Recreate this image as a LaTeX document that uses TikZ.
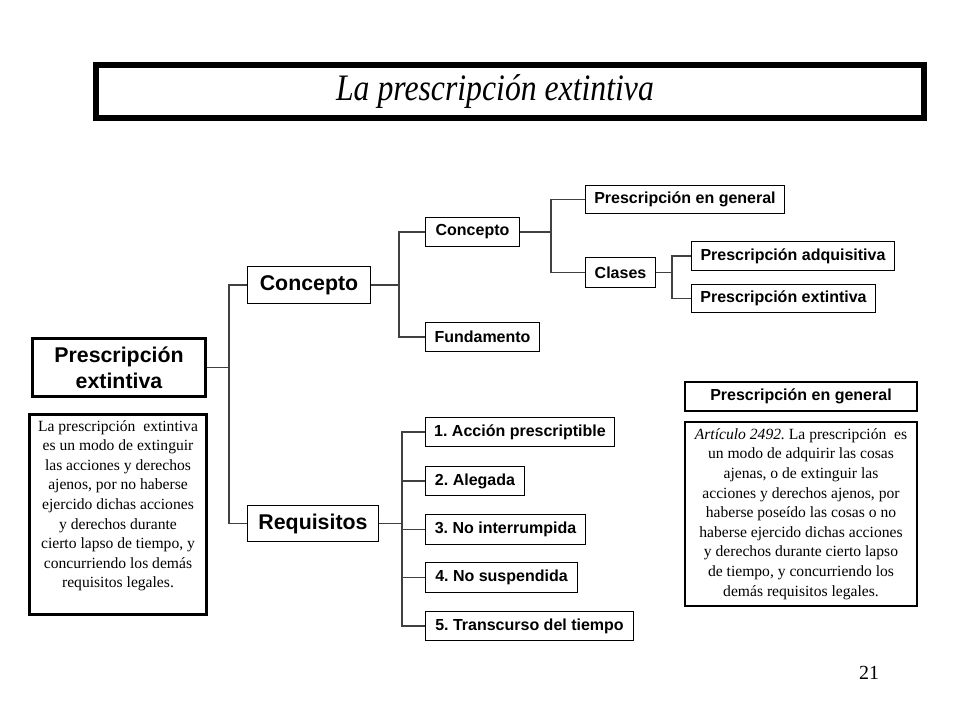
\documentclass[tikz,border=0pt]{standalone}
\usepackage{fontspec}
\usepackage{graphicx}
\setmainfont{Liberation Serif}
\setsansfont{Liberation Sans}
\newdimen\px \px=0.75pt
\frenchspacing
\begin{document}
\frenchspacing
\begin{tikzpicture}[x=0.75pt,y=-0.75pt,
  box/.style={draw=black, line width=1.5\px, inner sep=0pt, fill=white,
    font=\sffamily\bfseries\fontsize{12}{14}\selectfont},
  bigbox/.style={box, font=\sffamily\bfseries\fontsize{16}{19.5}\selectfont, align=center},
  thickbox/.style={draw=black, line width=3\px, inner sep=0pt, fill=white},
  bodytext/.style={font=\fontsize{11.7}{14.7}\selectfont, align=center, inner sep=0pt},
  conn/.style={draw=black!75, line width=1.5\px}]
\fill[white] (0,0) rectangle (960,720);
\useasboundingbox (0,0) rectangle (960,720);

% title
\node[draw=black, line width=6\px, inner sep=0pt, minimum width=828\px, minimum height=53\px] (title) at (510,91.5) {};
\node[font=\fontsize{28}{30}\selectfont\itshape, inner sep=0pt] (titletext) at (495,91.5)
  {\scalebox{0.85}[1]{La prescripción extintiva}};

% left column
\node[thickbox, minimum width=173\px, minimum height=58\px,
  font=\sffamily\bfseries\fontsize{16}{19.5}\selectfont, align=center] (main) at (119,367.5)
  {Prescripción\\extintiva};
\node[thickbox, minimum width=177\px, minimum height=200\px] (defbox) at (118,514.5) {};
\node[bodytext, anchor=north] (deftext) at (118,420)
  {La prescripción\ \ extintiva\\
   es un modo de extinguir\\
   las acciones y derechos\\
   ajenos, por no haberse\\
   ejercido dichas acciones\\
   y derechos durante\\
   cierto lapso de tiempo, y\\
   concurriendo los demás\\
   requisitos legales.};

% level 1
\node[bigbox, minimum width=123\px, minimum height=37\px] (concepto) at (309,285) {Concepto};
\node[bigbox, minimum width=131\px, minimum height=36\px] (requisitos) at (313,523.5) {Requisitos};

% level 2
\node[box, minimum width=94\px, minimum height=29\px] (sconcepto) at (472.5,232) {Concepto};
\node[box, minimum width=114\px, minimum height=29\px] (fundamento) at (482.5,337) {Fundamento};

% level 3
\node[box, minimum width=199\px, minimum height=28\px] (peng) at (685,199.5) {Prescripción en general};
\node[box, minimum width=70\px, minimum height=30\px] (clases) at (620.5,272.5) {Clases};

% level 4
\node[box, minimum width=203\px, minimum height=29\px] (padq) at (793,256) {Prescripción adquisitiva};
\node[box, minimum width=184\px, minimum height=28\px] (pext) at (783.5,298.5) {Prescripción extintiva};

% requisitos
\node[box, minimum width=189\px, minimum height=29\px] (r1) at (520,432) {1. Acción prescriptible};
\node[box, minimum width=99\px, minimum height=29\px] (r2) at (475,481) {2. Alegada};
\node[box, minimum width=160\px, minimum height=30\px] (r3) at (505.5,529.5) {3. No interrumpida};
\node[box, minimum width=152\px, minimum height=30\px] (r4) at (501.5,577.5) {4. No suspendida};
\node[box, minimum width=208\px, minimum height=29\px] (r5) at (529.5,626) {5. Transcurso del tiempo};

% right column
\node[box, line width=2.5\px, minimum width=232\px, minimum height=29\px] (rpeng) at (801,396.5) {Prescripción en general};
\node[draw=black, line width=2.5\px, inner sep=0pt, minimum width=232\px, minimum height=184\px] (art) at (801,514) {};
\node[bodytext] (arttext) at (801,514)
  {\textit{Artículo 2492.} La prescripción\ \ es\\
   un modo de adquirir las cosas\\
   ajenas, o de extinguir las\\
   acciones y derechos ajenos, por\\
   haberse poseído las cosas o no\\
   haberse ejercido dichas acciones\\
   y derechos durante cierto lapso\\
   de tiempo, y concurriendo los\\
   demás requisitos legales.};

% page number
\node[font=\fontsize{15}{17}\selectfont, inner sep=0pt] (pagenum) at (869,673) {21};

% connectors
\coordinate (b1) at (229,367.5);
\draw[conn] (main.east) -- (b1);
\draw[conn] (b1) |- (concepto.west);
\draw[conn] (b1) |- (requisitos.west);

\coordinate (b2) at (399,285);
\draw[conn] (concepto.east) -- (b2);
\draw[conn] (b2) |- (sconcepto.west);
\draw[conn] (b2) |- (fundamento.west);

\coordinate (b3) at (551,232);
\draw[conn] (sconcepto.east) -- (b3);
\draw[conn] (b3) |- (peng.west);
\draw[conn] (b3) |- (clases.west);

\coordinate (b4) at (672,272.5);
\draw[conn] (clases.east) -- (b4);
\draw[conn] (b4) |- (padq.west);
\draw[conn] (b4) |- (pext.west);

\coordinate (b5) at (402,523.5);
\draw[conn] (requisitos.east) -- (b5);
\draw[conn] (b5) |- (r1.west);
\draw[conn] (b5) |- (r2.west);
\draw[conn] (b5) |- (r3.west);
\draw[conn] (b5) |- (r4.west);
\draw[conn] (b5) |- (r5.west);
\end{tikzpicture}
\end{document}
